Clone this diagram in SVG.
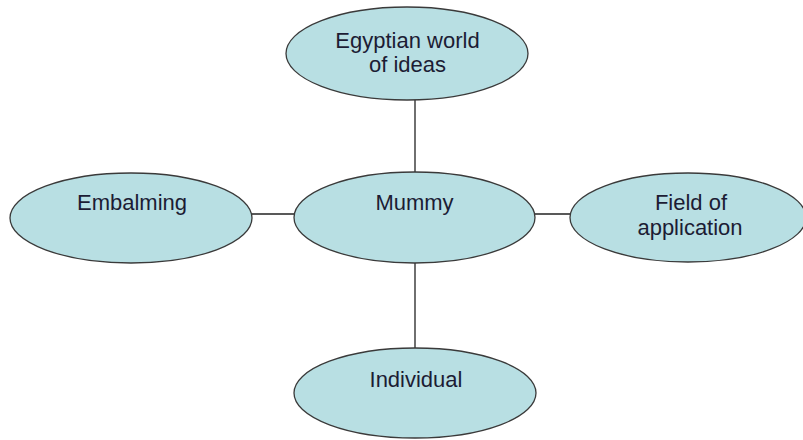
<svg xmlns="http://www.w3.org/2000/svg" width="803" height="440" viewBox="0 0 803 440">
<style>
.n{fill:#b8dfe3;stroke:#3a3a3a;stroke-width:1.3}
.t{font-family:"Liberation Sans",Arial,sans-serif;font-size:22px;fill:#1c1c34;text-anchor:middle}
.c{stroke:#222;stroke-width:1.3;fill:none}
</style>
<rect width="803" height="440" fill="#fff"/>
<g id="connectors">
<line class="c" x1="415" y1="100" x2="415" y2="172"/>
<line class="c" x1="415" y1="263" x2="415" y2="348"/>
<line class="c" x1="252" y1="214" x2="294" y2="214"/>
<line class="c" x1="535" y1="214" x2="570" y2="214"/>
</g>
<g id="egyptian">
<ellipse class="n" cx="407" cy="53.5" rx="121" ry="46.5"/>
<text class="t" x="407.5" y="48">Egyptian world</text>
<text class="t" x="407.5" y="72">of ideas</text>
</g>
<g id="mummy">
<ellipse class="n" cx="414.5" cy="217.5" rx="120.5" ry="45.5"/>
<text class="t" x="414.5" y="210">Mummy</text>
</g>
<g id="embalming">
<ellipse class="n" cx="131" cy="218" rx="121" ry="45"/>
<text class="t" x="132" y="210">Embalming</text>
</g>
<g id="field">
<ellipse class="n" cx="688" cy="217.5" rx="118" ry="44.5"/>
<text class="t" x="691" y="210">Field of</text>
<text class="t" x="690" y="235">application</text>
</g>
<g id="individual">
<ellipse class="n" cx="415" cy="393" rx="121" ry="45"/>
<text class="t" x="416" y="387">Individual</text>
</g>
</svg>
